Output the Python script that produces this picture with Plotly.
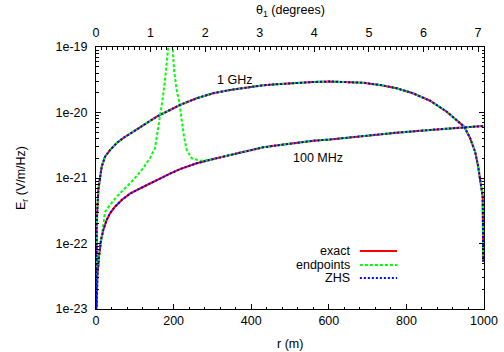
import numpy as np
import plotly.graph_objects as go

# ---- data (r in m, log10 of E_r in V/m/Hz) ----
r_1ghz = [0.5, 1.8, 5.9, 14.7, 23.2, 36.1, 53.4, 70.4, 96.1, 121.9, 156.4, 190.7, 216.5,
          259.5, 301.5, 345.4, 388.4, 430.4, 474.2, 517.3, 559.3, 603, 646, 688, 732,
          775, 817, 861, 904, 930, 949, 964, 977, 985, 991.5, 996.6, 997.4, 998]
logE_1ghz = [-23.0, -21.687, -21.183, -20.827, -20.675, -20.573, -20.466, -20.389, -20.293,
             -20.191, -20.064, -19.962, -19.885, -19.783, -19.707, -19.656, -19.615, -19.585,
             -19.565, -19.545, -19.534, -19.527, -19.534, -19.545, -19.580, -19.630, -19.707,
             -19.820, -19.988, -20.115, -20.217, -20.389, -20.598, -20.827, -21.076, -21.285,
             -21.79, -22.28]

r_100mhz = [1.8, 3.4, 7.7, 12.9, 18.8, 27.6, 36.1, 49, 66.2, 87.6, 113.4, 139.2, 165,
            190.7, 216.5, 259.5, 302.3, 345.4, 388.4, 431.2, 474.2, 517.3, 560, 603,
            689, 775, 861, 946.6, 998]
logE_100mhz = [-22.965, -22.507, -22.202, -21.947, -21.794, -21.641, -21.539, -21.438,
               -21.336, -21.240, -21.160, -21.082, -21.008, -20.934, -20.864, -20.776,
               -20.710, -20.649, -20.583, -20.531, -20.496, -20.461, -20.431, -20.412,
               -20.359, -20.308, -20.267, -20.226, -20.206]

# endpoints approximation at 100 MHz (deviates near the Cherenkov angle)
r_ep100 = [1.8, 3.4, 7.7, 12.9, 23.2, 36.1, 53.4, 70.4, 96.1, 121.9, 139.2, 152, 159.8,
           166.2, 172.7, 179.1, 184.3, 186.3, 188, None,
           193, 197.7, 201, 208, 214.7, 220.9, 226.8, 233.8, 246.6, 268, 293.8, 319.6,
           345.4, 388.4, 431.2, 474.2, 517.3, 560, 603, 689, 775, 861, 946.6, 998]
logE_ep100 = [-22.965, -22.507, -22.202, -21.947, -21.52, -21.41, -21.285, -21.183, -21.031,
              -20.847, -20.695, -20.542, -20.267, -19.992, -19.759, -19.427, -19.122, -18.995,
              -18.5, None,
              -18.5, -18.995, -19.351, -19.656, -19.84, -20.115, -20.369, -20.573, -20.699,
              -20.736, -20.725, -20.684, -20.649, -20.583, -20.531, -20.496, -20.461, -20.431,
              -20.412, -20.359, -20.308, -20.267, -20.226, -20.206]

theta_ticks = [0, 1, 2, 3, 4, 5, 6, 7]
theta_max = 7.11
x_ticks = [0, 200, 400, 600, 800, 1000]
y_decades = [-23, -22, -21, -20, -19]
y_ticktext = ["1e-23", "1e-22", "1e-21", "1e-20", "1e-19"]

series_names = ["exact", "endpoints", "ZHS"]
series_colors = ["#ff0000", "#00ff00", "#0000ff"]
series_dash = ["solid", "3px,2px", "2px,2px"]


def E(vals):
    return [None if v is None else 10 ** v for v in vals]


exact_x = r_1ghz + [None] + r_100mhz
exact_y = E(logE_1ghz) + [None] + E(logE_100mhz)
ep_x = r_1ghz + [None] + r_ep100
ep_y = E(logE_1ghz) + [None] + E(logE_ep100)
zhs_x = exact_x
zhs_y = exact_y

fig = go.Figure()
for name, xs, ys, col, dash in zip(series_names, [exact_x, ep_x, zhs_x],
                                   [exact_y, ep_y, zhs_y], series_colors, series_dash):
    fig.add_trace(go.Scatter(x=xs, y=ys, mode="lines", name=name, showlegend=False,
                             line=dict(color=col, width=2, dash=dash), connectgaps=False))

font = dict(family="Arial, Liberation Sans, sans-serif", size=12.5, color="black")

y_minor = [k * 10.0 ** d for d in y_decades[:-1] for k in range(2, 10)]

fig.update_layout(
    width=504, height=352,
    margin=dict(l=96, r=20, t=47, b=43, autoexpand=False),
    paper_bgcolor="white", plot_bgcolor="white",
    font=font,
    xaxis=dict(range=[0, 1000], tickvals=x_ticks, ticks="inside", automargin=False,
               ticklen=5, tickcolor="black", showline=True, linecolor="black", linewidth=1,
               mirror=False, showgrid=False, zeroline=False,
               minor=dict(ticks="inside", dtick=40, ticklen=2.5, tickcolor="black")),
    xaxis2=dict(range=[0, theta_max], overlaying="x", side="top", anchor="y", automargin=False,
                tickvals=theta_ticks, ticks="inside", ticklen=5, tickcolor="black",
                ticklabelstandoff=4,
                showline=True, linecolor="black", linewidth=1, showgrid=False, zeroline=False,
                minor=dict(ticks="inside", dtick=0.1, ticklen=2.5, tickcolor="black")),
    yaxis=dict(type="log", range=[-23, -19], tickvals=[10.0 ** d for d in y_decades],
               ticktext=y_ticktext, automargin=False, ticklabelstandoff=5,
               ticks="inside", ticklen=5, tickcolor="black", showline=True,
               linecolor="black", linewidth=1, mirror="ticks", showgrid=False, zeroline=False,
               minor=dict(ticks="inside", tickvals=y_minor, ticklen=2.5, tickcolor="black")),
)

fig.add_trace(go.Scatter(x=[0, theta_max], y=[None, None], xaxis="x2", yaxis="y",
                         mode="lines", showlegend=False, hoverinfo="skip"))

ann = [
    dict(text="r (m)", x=0.5, y=-0.1336, xref="paper", yref="paper", showarrow=False,
         xanchor="center", yanchor="middle"),
    dict(text="θ<sub>1</sub> (degrees)", x=0.5, y=1.137, xref="paper", yref="paper",
         showarrow=False, xanchor="center", yanchor="middle"),
    dict(text="E<sub>r</sub> (V/m/Hz)", x=-0.1907, y=0.5, xref="paper", yref="paper",
         showarrow=False, textangle=-90, xanchor="center", yanchor="middle"),
    dict(text="1 GHz", x=356, y=-19.504, xref="x", yref="y",
         showarrow=False, xanchor="center", yanchor="middle"),
    dict(text="100 MHz", x=572, y=-20.695, xref="x", yref="y",
         showarrow=False, xanchor="center", yanchor="middle"),
]
# legend (gnuplot style: text then sample)
leg_y = [0.2214, 0.168, 0.118]
for name, col, dash, ly in zip(series_names, series_colors, series_dash, leg_y):
    ann.append(dict(text=name, x=0.660, y=ly, xref="paper", yref="paper", showarrow=False,
                    xanchor="right", yanchor="middle"))
    fig.add_shape(type="line", xref="paper", yref="paper", x0=0.680, x1=0.776, y0=ly, y1=ly,
                  line=dict(color=col, width=2, dash=dash))
fig.update_layout(annotations=ann)

fig.write_html("out.html", config={"displayModeBar": False},
               post_script="document.body.style.margin='0px';")
